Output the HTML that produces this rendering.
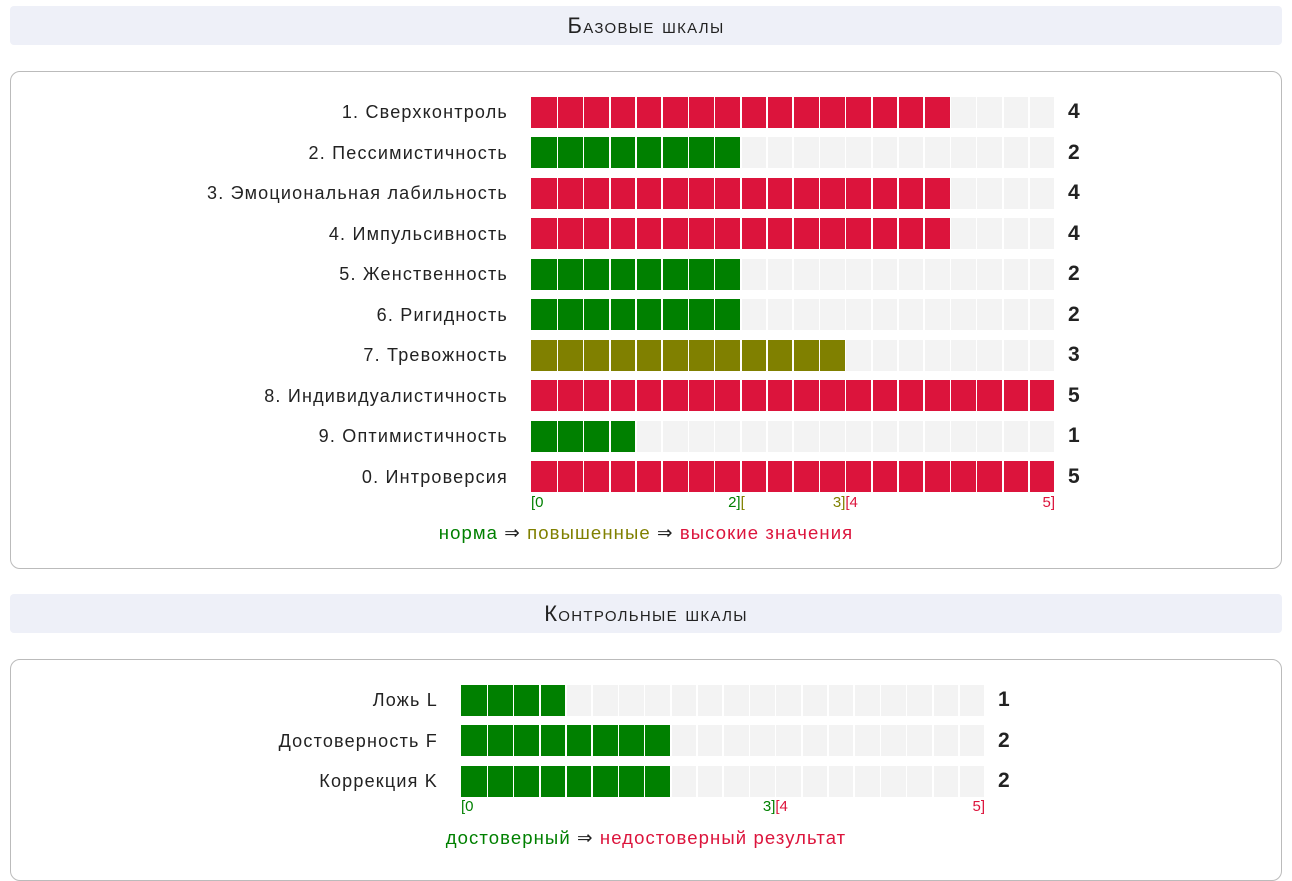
<!DOCTYPE html>
<html><head><meta charset="utf-8">
<style>
body{margin:0;width:1292px;height:850px;background:#fff;font-family:"Liberation Sans","DejaVu Sans",sans-serif;color:#222;position:relative;overflow:hidden}
.hdr{position:absolute;left:10px;width:1272px;height:39px;background:#eef0f8;border-radius:4px;text-align:center;line-height:40px;font-size:22px;font-variant:small-caps;letter-spacing:1.3px;color:#222}
.box{position:absolute;left:10px;width:1270px;border:1px solid #bbb;border-radius:10px}
.lbl{position:absolute;font-size:18px;letter-spacing:1.2px;text-align:right;width:440px;line-height:20px}
.val{position:absolute;font-size:21px;font-weight:bold;line-height:20px}
.cell{position:absolute;height:31px}
.tick{position:absolute;font-size:15px;line-height:16px}
.leg{position:absolute;font-size:18.5px;letter-spacing:1.1px;width:1292px;left:0;text-align:center;line-height:20px}
</style></head><body>
<div class="hdr" style="top:6px">Базовые шкалы</div>
<div class="box" style="top:71px;height:496px"></div>
<div class="hdr" style="top:594px">Контрольные шкалы</div>
<div class="box" style="top:659px;height:220px"></div>
<div class="leg" style="top:523px"><span style="color:#008000">норма</span> ⇒ <span style="color:#808000">повышенные</span> ⇒ <span style="color:#dc143c">высокие значения</span></div>
<div class="leg" style="top:828px"><span style="color:#008000">достоверный</span> ⇒ <span style="color:#dc143c">недостоверный результат</span></div>
<script>
const baseLabels=["1. Сверхконтроль","2. Пессимистичность","3. Эмоциональная лабильность","4. Импульсивность","5. Женственность","6. Ригидность","7. Тревожность","8. Индивидуалистичность","9. Оптимистичность","0. Интроверсия"];
const baseValues=[4,2,4,4,2,2,3,5,1,5];
const ctrlLabels=["Ложь L","Достоверность F","Коррекция K"];
const ctrlValues=[1,2,2];
const baseTicks=[[0,"[0","#008000",0],[2,"2]","#008000",1],[2,"[","#808000",0],[3,"3]","#808000",1],[3,"[4","#dc143c",0],[5,"5]","#dc143c",1]];
const ctrlTicks=[[0,"[0","#008000",0],[3,"3]","#008000",1],[3,"[4","#dc143c",0],[5,"5]","#dc143c",1]];
const MAXV=5, CELLS=20, BARW=524;
function baseColor(v){return v<=2?"#008000":v<=3?"#808000":"#dc143c";}
function ctrlColor(v){return v<=3?"#008000":"#dc143c";}
function draw(labels,values,ticks,x0,y0,step,colorFn,prefix){
  const cw=BARW/CELLS;
  const xs=v=>x0+v/MAXV*BARW;
  labels.forEach((t,i)=>{
    const cy=y0+i*step;
    const l=document.createElement('div');l.className='lbl';
    
    
    l.style.left=(x0-24-440+1)+'px';l.style.top=(cy-10)+'px';l.textContent=t;document.body.appendChild(l);
    const filled=Math.round(values[i]/MAXV*CELLS);
    for(let c=0;c<CELLS;c++){
      const d=document.createElement('div');d.className='cell';
      
      
      d.style.left=(x0+c*cw+(c?1:0))+'px';d.style.width=(cw-(c?1.5:0.5))+'px';
      d.style.top=(cy-15.5)+'px';d.style.background=c<filled?colorFn(values[i]):'#f3f3f3';
      document.body.appendChild(d);
    }
    const v=document.createElement('div');v.className='val';
    
    
    v.style.left=(x0+BARW+13)+'px';v.style.top=(cy-10)+'px';v.textContent=values[i];document.body.appendChild(v);
  });
  const ty=y0+(labels.length-1)*step+18;
  ticks.forEach(t=>{
    const d=document.createElement('div');d.className='tick';
    
    
    d.textContent=t[1];d.style.color=t[2];d.style.top=ty+'px';
    if(t[3]){d.style.right=(1292-xs(t[0]))+'px';}else{d.style.left=xs(t[0])+'px';}
    document.body.appendChild(d);
  });
}
draw(baseLabels,baseValues,baseTicks,531,112,40.5,baseColor,'base');
draw(ctrlLabels,ctrlValues,ctrlTicks,461,700,40.5,ctrlColor,'control');
</script>
</body></html>
